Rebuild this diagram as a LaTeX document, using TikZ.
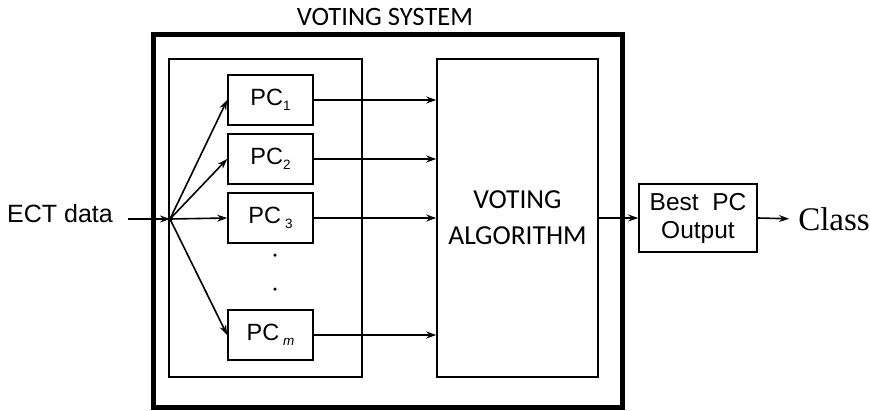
\documentclass[tikz,border=0pt]{standalone}
\usepackage{fontspec}
\setmainfont{Liberation Sans}
\newfontfamily\calib{Carlito}
\newfontfamily\tms{Liberation Serif}
\usetikzlibrary{arrows.meta}
\begin{document}
\begin{tikzpicture}[x=1pt,y=-1pt,
  box/.style={draw,line width=1.6pt,rectangle,inner sep=0pt},
  pcbox/.style={box,minimum width=85pt,minimum height=50pt,font=\fontsize{23.5}{26}\selectfont},
  arr/.style={line width=1.6pt,-{Stealth[length=10pt,width=7pt]}},
  lbl/.style={inner sep=0pt}]
\useasboundingbox (0,0) rectangle (870,410);
\node[box,line width=5pt,minimum width=469pt,minimum height=373pt] (outer) at (387.5,220.5) {};
\node[box,minimum width=193pt,minimum height=318pt] (inner) at (265.5,218) {};
\node[box,minimum width=161pt,minimum height=318pt,align=center,font=\calib\fontsize{27.5}{36}\selectfont] (vote) at (517.5,218) {VOTING\\ALGORITHM};
\node[lbl,font=\calib\fontsize{26.5}{28}\selectfont] (title) at (385,17) {VOTING SYSTEM};
\node[pcbox] (pc1) at (270.5,100) {PC\raisebox{-5pt}{\fontsize{13.5}{14}\selectfont 1}};
\node[pcbox] (pc2) at (270.5,159) {PC\raisebox{-5pt}{\fontsize{13.5}{14}\selectfont 2}};
\node[pcbox] (pc3) at (270.5,218) {PC\,\raisebox{-5pt}{\fontsize{13.5}{14}\selectfont 3}};
\node[pcbox] (pcm) at (270.5,335) {PC\,\raisebox{-5pt}{\fontsize{13.5}{14}\selectfont\itshape m}};
\node[box,minimum width=118pt,minimum height=68pt,align=center,font=\fontsize{24.5}{28}\selectfont] (best) at (698,218) {Best\ \ PC\\Output};
\node[lbl,font=\fontsize{25}{27}\selectfont] (ect) at (60,214) {ECT data};
\node[lbl,font=\tms\fontsize{33}{36}\selectfont] (class) at (834,219) {Class};
\coordinate (fan) at (170,219);
\coordinate (ectend) at (128,219);
\node[circle,fill,inner sep=0pt,minimum size=3.5pt] (d1) at (275,255) {};
\node[circle,fill,inner sep=0pt,minimum size=3.5pt] (d2) at (275,289) {};
\draw[arr] (ectend) -- (fan);
\foreach \p in {pc1,pc2,pc3,pcm}{
  \draw[arr] (fan) -- (\p.west);
  \draw[arr] (\p.east) -- (vote.west |- \p.east);
}
\draw[arr] (vote.east |- best.west) -- (best.west);
\draw[arr,shorten >=9pt] (best.east) -- (class.west);
\end{tikzpicture}
\end{document}
